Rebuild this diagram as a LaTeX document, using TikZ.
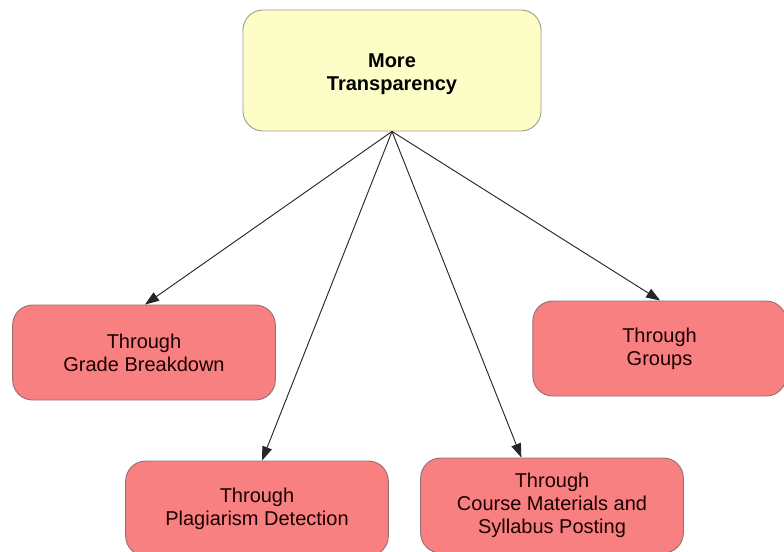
\documentclass[tikz,border=0pt]{standalone}
\usepackage{fontspec}
\setmainfont{Liberation Sans}
\usetikzlibrary{arrows.meta}
\definecolor{topfill}{HTML}{FDFDC8}
\definecolor{topline}{HTML}{A09F84}
\definecolor{boxfill}{HTML}{F98080}
\definecolor{boxline}{HTML}{957272}
\begin{document}
\begin{tikzpicture}[x=0.75pt,y=-0.75pt,
  basebox/.style={rounded corners=15pt, inner sep=0pt, align=center,
    font=\fontsize{15pt}{17.25pt}\selectfont, line width=0.7pt},
  topbox/.style={basebox, draw=topline, fill=topfill,
    minimum width=223.5pt, minimum height=90.75pt},
  leafbox/.style={basebox, draw=boxline, fill=boxfill, text=black!90!red,
    minimum width=197pt, minimum height=71.25pt},
  link/.style={draw=black!85, line width=0.7pt,
    -{Triangle[length=10.5pt,width=7.5pt]}}]
\useasboundingbox (0,0) rectangle (784,551);
\clip (0,0) rectangle (784,551);

% root and its four branches
\node[topbox] (root) at (392,70.5) {\rule{0pt}{15.3pt}\textbf{More}\\\textbf{Transparency}};
\node[leafbox] (grade) at (144,352.5) {Through\\Grade Breakdown};
\node[leafbox, minimum width=190pt] (groups) at (659.5,348.5) {Through\\Groups};
\node[leafbox] (plag) at (257,508.5) {Through\\Plagiarism Detection};
\node[leafbox] (course) at (552,505.5) {Through\\Course Materials and\\Syllabus Posting};

% connectors fan out from the bottom of the root
\draw[link] (root.south) -- ([xshift=0.75pt]grade.north);
\draw[link] (root.south) -- ([xshift=3.75pt]plag.north);
\draw[link] (root.south) -- ([xshift=-23pt]course.north);
\draw[link] (root.south) -- ([xshift=0.5pt]groups.north);
\end{tikzpicture}
\end{document}
